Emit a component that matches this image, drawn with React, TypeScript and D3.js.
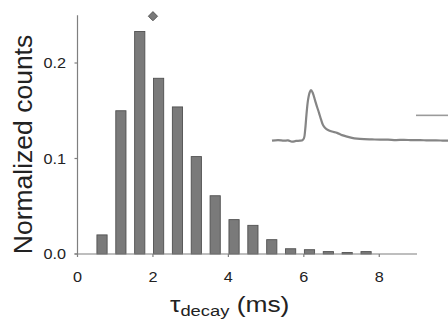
import React from "react";
import * as d3 from "d3";

// Histogram data (bin centers in ms, normalized counts)
const binCenters = [0.65, 1.15, 1.65, 2.15, 2.65, 3.15, 3.65, 4.15, 4.65, 5.15, 5.65, 6.15, 6.65, 7.15, 7.65];
const counts = [0.020, 0.150, 0.233, 0.184, 0.154, 0.102, 0.061, 0.036, 0.030, 0.015, 0.0055, 0.0045, 0.0025, 0.0015, 0.0025];
const meanMarker = { x: 2.0, y: 0.249 };
const xTicks = [0, 2, 4, 6, 8];
const yTicks = [0, 0.1, 0.2];
const yTickLabels = ["0.0", "0.1", "0.2"];

// Inset example trace (time in arbitrary ms, amplitude normalized to peak)
const traceT = [0, 1.5, 3, 4, 5, 6, 7, 7.6, 8, 8.3, 8.6, 9, 9.4, 9.75, 10.2, 10.75, 11.25, 11.75, 12.25, 12.75, 13.3, 14, 15, 16.25, 17.5, 18.75, 20, 21.25, 23, 25, 27, 29, 31, 33, 35, 37, 39, 41, 43, 44];
const traceV = [0, 0.01, 0.0, 0.005, -0.02, -0.005, 0.0, 0.01, 0.05, 0.22, 0.5, 0.8, 0.95, 1.0, 0.94, 0.8, 0.67, 0.55, 0.42, 0.31, 0.25, 0.21, 0.18, 0.155, 0.11, 0.08, 0.055, 0.04, 0.03, 0.025, 0.02, 0.02, 0.012, 0.018, 0.01, 0.012, 0.005, 0.008, 0.0, 0.0];
const scaleBarT = [36, 44];
const scaleBarV = 0.5;

const W = 448;
const H = 320;
const FONT = "'Liberation Sans', Arial, Helvetica, sans-serif";
const STRETCH = 1.12;

export default function App() {
  const x = d3.scaleLinear().domain([0, 9]).range([77.5, 417]);
  const y = d3.scaleLinear().domain([0, 0.25]).range([254, 15.25]);
  const barW = x(0.27) - x(0);

  const tx = d3.scaleLinear().domain([0, 44]).range([272, 448]);
  const ty = d3.scaleLinear().domain([0, 1]).range([140.7, 90]);
  const line = d3
    .line<number>()
    .x((_, i) => tx(traceT[i]))
    .y((v) => ty(v))
    .curve(d3.curveCatmullRom.alpha(0.5));

  const axisColor = "#7f7f7f";
  const x0 = x(0);
  const yBase = y(0);

  const dSize = 4.6;
  const mx = x(meanMarker.x);
  const my = y(meanMarker.y);

  return (
    <svg
      width={W}
      height={H}
      viewBox={`0 0 ${W} ${H}`}
      style={{ position: "absolute", left: 0, top: 0, background: "#fff" }}
      fontFamily={FONT}
    >
      {/* bars */}
      {binCenters.map((c, i) => (
        <rect
          key={i}
          x={x(c) - barW / 2}
          y={y(counts[i])}
          width={barW}
          height={yBase - y(counts[i])}
          fill="#7a7a7a"
          stroke="#505050"
          strokeWidth={0.9}
        />
      ))}

      {/* axes */}
      <line x1={x0} x2={x0} y1={y(0.25)} y2={yBase} stroke={axisColor} strokeWidth={1.2} />
      <line x1={x0 - 3} x2={x(9)} y1={yBase} y2={yBase} stroke={axisColor} strokeWidth={1.2} />
      {yTicks.map((t, i) => (
        <g key={"yt" + i}>
          <line x1={x0 - 3} x2={x0} y1={y(t)} y2={y(t)} stroke={axisColor} strokeWidth={1.2} />
          <text
            transform={`translate(66,${y(t) + 5.2}) scale(${STRETCH},1)`}
            textAnchor="end"
            fontSize={14.5}
            fill="#222"
          >
            {yTickLabels[i]}
          </text>
        </g>
      ))}
      {xTicks.map((t) => (
        <g key={"xt" + t}>
          <line x1={x(t)} x2={x(t)} y1={yBase} y2={yBase + 3} stroke={axisColor} strokeWidth={1.2} />
          <text
            transform={`translate(${x(t)},282) scale(${STRETCH},1)`}
            textAnchor="middle"
            fontSize={14.5}
            fill="#222"
          >
            {t}
          </text>
        </g>
      ))}

      {/* mean marker */}
      <path
        d={`M${mx},${my - dSize} L${mx + dSize},${my} L${mx},${my + dSize} L${mx - dSize},${my} Z`}
        fill="#7a7a7a"
        stroke="#505050"
        strokeWidth={0.9}
      />

      {/* axis titles */}
      <text
        transform={`translate(32,144.5) rotate(-90)`}
        textAnchor="middle"
        fontSize={26.5}
        fill="#222"
      >
        Normalized counts
      </text>
      <text transform={`translate(170,312) scale(1.2,1)`} fill="#222">
        <tspan fontSize={22}>τ</tspan>
        <tspan fontSize={15.3} dy={4}>decay</tspan>
        <tspan fontSize={22} dy={-4}> (ms)</tspan>
      </text>

      {/* inset trace */}
      <path d={line(traceV) || ""} fill="none" stroke="#858585" strokeWidth={2.2} strokeLinejoin="round" />
      <line
        x1={tx(scaleBarT[0])}
        x2={tx(scaleBarT[1])}
        y1={ty(scaleBarV)}
        y2={ty(scaleBarV)}
        stroke="#9a9a9a"
        strokeWidth={1.6}
      />
    </svg>
  );
}
